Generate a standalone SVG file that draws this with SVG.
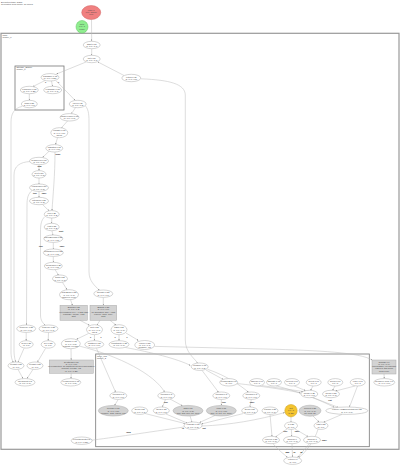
<svg xmlns="http://www.w3.org/2000/svg" width="400" height="466" viewBox="0 0 400 466">
<style>
text{font-family:"Liberation Sans",Arial,sans-serif;font-size:2.2px;fill:#444;text-anchor:middle}
.t text{text-anchor:start}
.n ellipse{fill:#fff;stroke:#aaa;stroke-width:0.5}
.g ellipse,.g rect{fill:#d3d3d3;stroke:#aaa;stroke-width:0.5}
.cl{fill:none;stroke:#777;stroke-width:0.8}
.e path{fill:none;stroke:#bbb;stroke-width:0.5;marker-end:url(#ah)}
.lb{font-weight:bold;fill:#222;font-size:2px}
</style>
<defs>
<marker id="ah" viewBox="0 0 6 6" refX="6" refY="3" markerWidth="3" markerHeight="3" orient="auto"><path d="M0,0L6,3L0,6z" fill="#888"/></marker>
</defs>
<rect width="400" height="466" fill="#fff"/>
<g class="t"><text x="1" y="2.6">Execution trace graph</text><text x="1" y="5.2">Generated from profile, all nodes</text></g>

<g id="cluster_main"><rect class="cl" x="1" y="33.3" width="398" height="416" style="stroke:#999;stroke-width:1.2"/><text x="2.5" y="36" style="text-anchor:start">main</text><text x="2.5" y="38.2" style="text-anchor:start">cluster_0</text></g>
<g id="cluster_storage"><rect class="cl" x="15" y="66" width="49" height="44"/><text x="16.5" y="68.3" style="text-anchor:start">Storage_Engine</text><text x="16.5" y="70.4" style="text-anchor:start">cluster_1</text></g>
<g id="cluster_inline"><rect class="cl" x="95.7" y="354" width="273.6" height="92.7"/><text x="97" y="356.6" style="text-anchor:start">inline_ops</text><text x="97" y="358.7" style="text-anchor:start">cluster_2</text></g>

<g id="edges" class="e">
<path d="M91.5,19.5L91.7,41"/>
<path d="M91.7,48.7L91.7,55.3"/>
<path d="M86,62L56.5,74"/>
<path d="M124,75.5L98,62"/>
<path d="M45,80.5L33,86.5"/>
<path d="M51.5,81L52.5,86.3"/>
<path d="M29.3,93.7L29.3,100.3"/>
<path d="M56,80.7L75,100.3"/>
<path d="M75.5,107.6L71.5,113.7"/>
<path d="M67.5,121L61.5,127.7"/>
<path d="M57.5,137.7L55.5,144.6"/>
<path d="M49,151.3L42.5,157.5"/>
<path d="M39,164.7L39,170.6"/>
<path d="M39,178L39,184"/>
<path d="M39,191.4L39,197.3"/>
<path d="M42.5,204.5L49,210.8"/>
<path d="M55,152C55,175 53,195 52,210.6"/>
<path d="M51.7,218L51.7,223.3"/>
<path d="M51.9,230.7L53,235"/>
<path d="M53.3,242.4L53.3,249"/>
<path d="M53.3,256.4L53.3,262.3"/>
<path d="M55,269.6L58.5,275"/>
<path d="M62.5,282.4L67,289.7"/>
<path d="M70.5,299.7L72.5,305.3"/>
<path d="M85.5,106C89,110 89,116 89,124L89,272C89,281 95,286 99.5,290.3"/>
<path d="M103.3,297.4L103.3,305.3"/>
<path d="M80,320.3L89.5,325.3"/>
<path d="M100,320.3L97,325"/>
<path d="M110,320.3L116,325"/>
<path d="M88.5,333.5L76.5,339.3"/>
<path d="M94.5,334.7L94.3,340.7"/>
<path d="M119,334.7L119,340.7"/>
<path d="M126,333L138.5,340.5"/>
<path d="M26.2,332.4L26.2,340.7"/>
<path d="M48.5,332.4L48.2,340.7"/>
<path d="M22,106.5C14,108 11,114 11,122L11,352C11,358 12.5,361 13.5,362.5"/>
<path d="M30.5,161.5C20,162 14,166 14,175L14,350C14,356 15,359 15.5,362"/>
<path d="M32,190.5C28,194 27,198 27,205L26.5,325"/>
<path d="M45,216.5C41,220 40.5,225 40.5,232L40.5,315C40.5,321 43.5,323.5 45.5,325.6"/>
<path d="M24,348.4L18,362"/>
<path d="M45.5,348.4L37.5,362"/>
<path d="M71,348.7L71.2,360"/>
<path d="M18,369.4L23,378.6"/>
<path d="M33,369.4L27,378.6"/>
<path d="M71.2,373.3L71,378.6"/>
<path d="M141,78.8C170,80 185,84 185.3,95L185.3,340C185.3,352 194,358 197.5,362.8"/>
<path d="M154.5,346.4L266,349C320,350.5 360,352.5 372,360"/>
<path d="M125.5,347.5C150,352 178,359 190.5,365.5"/>
<path d="M96.5,348.4L115.5,392"/>
<path d="M79,346C120,356 155,375 164.5,392"/>
<path d="M206,370L223,379.3"/>
<path d="M207.5,369.3C225,375 240,385 248.5,392.2"/>
<path d="M202,370.4L218.5,392.2"/>
<path d="M237,383.5C260,386 288,390 300.5,393"/>
<path d="M262,385.6L303,391.5"/>
<path d="M276,385.8C300,392 320,400 334,407.2"/>
<path d="M294,385.8L305.5,390.6"/>
<path d="M313,386L310.5,390.4"/>
<path d="M335,386L332.5,390.4"/>
<path d="M355,386L335.5,391"/>
<path d="M357.5,386L349.5,407"/>
<path d="M313,397.6L338,407.3"/>
<path d="M118.3,399.4L114.5,405.4"/>
<path d="M170,399L182.5,405.8"/>
<path d="M165.5,399.4L162.5,407"/>
<path d="M221.3,399.4L221.3,405.4"/>
<path d="M251.3,399.4L250,407"/>
<path d="M145,413.5L185,423.5"/>
<path d="M166,414L187,423"/>
<path d="M190,416L192,422"/>
<path d="M215,415.5L199.5,422.5"/>
<path d="M243,413.6L201.5,424"/>
<path d="M184,427C150,432 110,438 90.5,440.3"/>
<path d="M202,426C230,425 258,420 284.8,412.5"/>
<path d="M291,417L291,422"/>
<path d="M287,429L275.5,436.8"/>
<path d="M291.3,429.4L291.8,436.3"/>
<path d="M295,429L308,436.6"/>
<path d="M313,416L319,422"/>
<path d="M342,414.4L323.5,422.3"/>
<path d="M318,429.3C315,440 305,453 299,457.5"/>
<path d="M273,443.7C278,450 284,454 287.5,457.5"/>
<path d="M292,443.7L292.5,457"/>
<path d="M309.5,443.6L297.5,457.5"/>
<path d="M384,374L384.3,378.6"/>
<path d="M270,414.4L272,436.3"/>
</g>

<g id="edge_labels">
<text class="lb" x="45.5" y="83.2">T</text><text class="lb" x="58.5" y="83.2">F</text>
<text class="lb" x="35" y="193.5">true</text><text class="lb" x="44" y="193.5">false</text>
<text class="lb" x="39.5" y="167.2">loop</text><text class="lb" x="58" y="155">body</text>
<text class="lb" x="61" y="232">next</text>
<text class="lb" x="41" y="247">true</text><text class="lb" x="62" y="247">false</text>
<text class="lb" x="90.5" y="338">T</text><text class="lb" x="101" y="338">F</text>
<text class="lb" x="115" y="338">T</text><text class="lb" x="127" y="338">F</text>
<text class="lb" x="166" y="403">true</text><text class="lb" x="224" y="403">true</text>
<text class="lb" x="183" y="428.5">in</text><text class="lb" x="204" y="428.5">out</text>
<text class="lb" x="252" y="403">false</text><text class="lb" x="330" y="401">exit</text>
<text class="lb" x="285.5" y="431.5">true</text><text class="lb" x="297" y="431.5">false</text>
<text class="lb" x="128.3" y="433" style="font-size:2.3px">4096</text>
<text class="lb" x="324.3" y="441.3" style="font-size:2.3px">1024</text>
<text class="lb" x="287.3" y="453" style="font-size:2.3px">256</text>
<text class="lb" x="294.3" y="453">16</text>
<text class="lb" x="301.3" y="453">32</text>
</g>

<g id="n_entry"><ellipse cx="91.2" cy="12.5" rx="9.5" ry="7" fill="#f08080" stroke="#d06060" stroke-width="0.5"/><text x="91.2" y="10.8">entry 1</text><text x="91.2" y="13.1">(0.0, 100%)</text><text x="91.2" y="15.4">root</text></g>
<g id="n_init"><ellipse cx="82" cy="26.8" rx="6" ry="6.3" fill="#90ee90" stroke="#60c060" stroke-width="0.5"/><text x="82" y="25">init 1</text><text x="82" y="27.3">0.0 / 1</text><text x="82" y="29.6">ready</text></g>

<g class="n">
<g id="n_start"><ellipse cx="91.7" cy="45" rx="8.5" ry="3.7"/><text x="91.7" y="44.5">Start 0.75</text><text x="91.7" y="46.8">(1, 0.0 / 1.0)</text></g>
<g id="n_a"><ellipse cx="91.7" cy="59" rx="8.5" ry="3.7"/><text x="91.7" y="58.5">init 0.75</text><text x="91.7" y="60.8">(1, 0.0 / 1.0)</text></g>
<g id="n_b"><ellipse cx="131.3" cy="78" rx="9.5" ry="3.7"/><text x="131.3" y="77.5">return 0.75</text><text x="131.3" y="79.8">(1, 0.1 / 0.5)</text></g>
<g id="n_c"><ellipse cx="50" cy="77.3" rx="9" ry="3.7"/><text x="50" y="76.8">loadTable 0.75</text><text x="50" y="79.1">(1, 0.0 / 0.25)</text></g>
<g id="n_d"><ellipse cx="29.3" cy="90" rx="9" ry="3.7"/><text x="29.3" y="89.5">readIndex 0.50</text><text x="29.3" y="91.8">(1, 0.0 / 0.25)</text></g>
<g id="n_e"><ellipse cx="52.7" cy="90" rx="9" ry="3.7"/><text x="52.7" y="89.5">readPage 0.50</text><text x="52.7" y="91.8">(1, 0.0 / 0.1)</text></g>
<g id="n_f"><ellipse cx="29.3" cy="104" rx="8" ry="3.7"/><text x="29.3" y="103.5">scan 0.25</text><text x="29.3" y="105.8">(1, 0.0 / 0.1)</text></g>
<g id="n_g"><ellipse cx="77.7" cy="104" rx="8.5" ry="3.7"/><text x="77.7" y="103.5">open 0.75</text><text x="77.7" y="105.8">(1, 0.0 / 0.5)</text></g>
<g id="n_h"><ellipse cx="69.5" cy="117.3" rx="9.5" ry="3.7"/><text x="69.5" y="116.8">parseHeader 0.75</text><text x="69.5" y="119.1">(1, 0.0 / 0.5)</text></g>
<g id="n_i"><ellipse cx="59.3" cy="132.7" rx="8.5" ry="5"/><text x="59.3" y="131.2">validate 0.75</text><text x="59.3" y="133.5">(1, 0.0 / 0.5)</text><text x="59.3" y="135.8">check</text></g>
<g id="n_j"><ellipse cx="54.3" cy="148.3" rx="8.5" ry="3.7"/><text x="54.3" y="147.8">dispatch 0.75</text><text x="54.3" y="150.1">(1, 0.0 / 0.5)</text></g>
<g id="n_k"><ellipse cx="39" cy="161" rx="9.5" ry="3.7"/><text x="39" y="160.5">beginLoop 0.75</text><text x="39" y="162.8">(1, 0.0 / 0.5)</text></g>
<g id="n_l"><ellipse cx="39" cy="174.3" rx="7" ry="3.7"/><text x="39" y="173.8">next 0.50</text><text x="39" y="176.1">(1, 0.0 / 0.5)</text></g>
<g id="n_m"><ellipse cx="39" cy="187.7" rx="9.5" ry="3.7"/><text x="39" y="187.2">evalGuard 0.50</text><text x="39" y="189.5">(1, 0.0 / 0.5)</text></g>
<g id="n_n"><ellipse cx="39" cy="201" rx="9.5" ry="3.7"/><text x="39" y="200.5">filterRow 0.35</text><text x="39" y="202.8">(1, 0.0 / 0.2)</text></g>
<g id="n_o"><ellipse cx="51.7" cy="214.3" rx="7.5" ry="3.7"/><text x="51.7" y="213.8">join 0.35</text><text x="51.7" y="216.1">(1, 0.0 / 0.2)</text></g>
<g id="n_p"><ellipse cx="51.7" cy="227" rx="7.5" ry="3.7"/><text x="51.7" y="226.5">emit 0.35</text><text x="51.7" y="228.8">(1, 0.0 / 0.2)</text></g>
<g id="n_q"><ellipse cx="53.3" cy="238.7" rx="9.5" ry="3.7"/><text x="53.3" y="238.2">checkBounds 0.35</text><text x="53.3" y="240.5">(1, 0.0 / 0.2)</text></g>
<g id="n_r"><ellipse cx="53.3" cy="252.7" rx="10" ry="3.7"/><text x="53.3" y="252.2">compareKeys 0.35</text><text x="53.3" y="254.5">(1, 0.0 / 0.2)</text></g>
<g id="n_s"><ellipse cx="53.3" cy="266" rx="9" ry="3.7"/><text x="53.3" y="265.5">mergeRun 0.35</text><text x="53.3" y="267.8">(1, 0.0 / 0.2)</text></g>
<g id="n_t"><ellipse cx="60" cy="278.7" rx="7.5" ry="3.7"/><text x="60" y="278.2">flush 0.25</text><text x="60" y="280.5">(1, 0.0 / 0.1)</text></g>
<g id="n_u"><ellipse cx="69" cy="294.7" rx="9.5" ry="5"/><text x="69" y="293.2">writeBlock 0.25</text><text x="69" y="295.5">(1, 0.0 / 0.1)</text><text x="69" y="297.8">buffered, sync</text></g>
<g id="n_v"><ellipse cx="103.3" cy="293.7" rx="9.5" ry="3.7"/><text x="103.3" y="293.2">allocate 0.25</text><text x="103.3" y="295.5">(1, 0.0 / 0.1)</text></g>
<g id="n_w"><ellipse cx="94.5" cy="329.7" rx="8" ry="5"/><text x="94.5" y="328.2">sort 0.25</text><text x="94.5" y="330.5">(1, 0.0 / 0.1)</text><text x="94.5" y="332.8">fan 2</text></g>
<g id="n_x"><ellipse cx="119" cy="329.7" rx="8" ry="5"/><text x="119" y="328.2">hash 0.25</text><text x="119" y="330.5">(1, 0.0 / 0.1)</text><text x="119" y="332.8">fan 2</text></g>
<g id="n_y"><ellipse cx="26.2" cy="328.7" rx="9.5" ry="3.7"/><text x="26.2" y="328.2">closeFile 0.25</text><text x="26.2" y="330.5">(1, 0.0 / 0.1)</text></g>
<g id="n_z"><ellipse cx="48.5" cy="328.7" rx="9.5" ry="3.7"/><text x="48.5" y="328.2">closeIdx 0.25</text><text x="48.5" y="330.5">(1, 0.0 / 0.1)</text></g>
<g id="n_r2a"><ellipse cx="26.2" cy="344.4" rx="7" ry="3.7"/><text x="26.2" y="343.9">sync 0.25</text><text x="26.2" y="346.2">(1, 0.0)</text></g>
<g id="n_r2b"><ellipse cx="48.2" cy="344.4" rx="7" ry="3.7"/><text x="48.2" y="343.9">free 0.25</text><text x="48.2" y="346.2">(1, 0.0)</text></g>
<g id="n_r2c"><ellipse cx="70.8" cy="343.7" rx="9.5" ry="5"/><text x="70.8" y="342.2">finalize 0.75</text><text x="70.8" y="344.5">(1, 0.0 / 0.5)</text><text x="70.8" y="346.8">commit, release</text></g>
<g id="n_r2d"><ellipse cx="94.3" cy="344.4" rx="9.5" ry="3.7"/><text x="94.3" y="343.9">partition 0.25</text><text x="94.3" y="346.2">(1, 0.0 / 0.1)</text></g>
<g id="n_r2e"><ellipse cx="119" cy="344.4" rx="10" ry="3.7"/><text x="119" y="343.9">redistribute 0.25</text><text x="119" y="346.2">(1, 0.0 / 0.1)</text></g>
<g id="n_r2f"><ellipse cx="144.7" cy="345" rx="10" ry="4.5"/><text x="144.7" y="343.7">reduce 0.25</text><text x="144.7" y="346">(1, 0.0 / 0.1)</text><text x="144.7" y="348.3">combine, out</text></g>
<g id="n_s1"><ellipse cx="16" cy="365.7" rx="8" ry="3.7"/><text x="16" y="365.2">persist 0.25</text><text x="16" y="367.5">(1, 0.0)</text></g>
<g id="n_s2"><ellipse cx="35" cy="365.7" rx="8" ry="3.7"/><text x="35" y="365.2">persist 0.25</text><text x="35" y="367.5">(1, 0.0)</text></g>
<g id="n_s3"><ellipse cx="25" cy="382.3" rx="10" ry="3.7"/><text x="25" y="381.8">checkpoint 0.5</text><text x="25" y="384.1">(1, 0.0 / 0.1)</text></g>
<g id="n_s4"><ellipse cx="70.8" cy="382.3" rx="10" ry="3.7"/><text x="70.8" y="381.8">releaseLock 0.75</text><text x="70.8" y="384.1">(1, 0.0 / 0.5)</text></g>
<g id="n_tail"><ellipse cx="81.7" cy="440.7" rx="10.5" ry="3.7"/><text x="81.7" y="440.2">collectResults 0.5</text><text x="81.7" y="442.5">(1, 0.0 / 0.25)</text></g>
<g id="n_i1"><ellipse cx="199.7" cy="366.7" rx="8.5" ry="3.7"/><text x="199.7" y="366.2">combine 0.75</text><text x="199.7" y="368.5">(1, 0.0 / 0.5)</text></g>
<g id="n_i2"><ellipse cx="228.7" cy="382.3" rx="9" ry="3.7"/><text x="228.7" y="381.8">compileExpr 0.5</text><text x="228.7" y="384.1">(1, 0.0)</text></g>
<g id="n_i3"><ellipse cx="257" cy="382.3" rx="7.5" ry="3.7"/><text x="257" y="381.8">tableau 0.07</text><text x="257" y="384.1">0.0 / 1</text></g>
<g id="n_i4"><ellipse cx="274" cy="382.3" rx="7.5" ry="3.7"/><text x="274" y="381.8">tabulate 0.07</text><text x="274" y="384.1">0.0 / 1</text></g>
<g id="n_i5"><ellipse cx="292" cy="382.3" rx="7.5" ry="3.7"/><text x="292" y="381.8">project 0.07</text><text x="292" y="384.1">0.0 / 1</text></g>
<g id="n_i6"><ellipse cx="313.7" cy="382.3" rx="7.5" ry="3.7"/><text x="313.7" y="381.8">select 0.07</text><text x="313.7" y="384.1">0.0 / 1</text></g>
<g id="n_i7"><ellipse cx="335.3" cy="382.3" rx="7.5" ry="3.7"/><text x="335.3" y="381.8">group 0.07</text><text x="335.3" y="384.1">0.0 / 1</text></g>
<g id="n_i8"><ellipse cx="357.7" cy="382.3" rx="7.5" ry="3.7"/><text x="357.7" y="381.8">order 0.07</text><text x="357.7" y="384.1">0.0 / 1</text></g>
<g id="n_j1"><ellipse cx="118.3" cy="395.7" rx="8.5" ry="3.7"/><text x="118.3" y="395.2">operand 0.5</text><text x="118.3" y="397.5">(1, 0.0 / 0.1)</text></g>
<g id="n_j2"><ellipse cx="166.3" cy="395.7" rx="8.5" ry="3.7"/><text x="166.3" y="395.2">operand 0.5</text><text x="166.3" y="397.5">(1, 0.0 / 0.1)</text></g>
<g id="n_j3"><ellipse cx="221.3" cy="395.7" rx="8.5" ry="3.7"/><text x="221.3" y="395.2">operand 0.5</text><text x="221.3" y="397.5">(1, 0.0 / 0.1)</text></g>
<g id="n_j4"><ellipse cx="251.3" cy="395.7" rx="8.5" ry="3.7"/><text x="251.3" y="395.2">operand 0.5</text><text x="251.3" y="397.5">(1, 0.0 / 0.1)</text></g>
<g id="n_j5"><ellipse cx="309.3" cy="394" rx="8.5" ry="3.7"/><text x="309.3" y="393.5">merge 0.25</text><text x="309.3" y="395.8">(1, 0.0 / 0.1)</text></g>
<g id="n_j6"><ellipse cx="331" cy="394" rx="8.5" ry="3.7"/><text x="331" y="393.5">merge 0.25</text><text x="331" y="395.8">(1, 0.0 / 0.1)</text></g>
<g id="n_k2"><ellipse cx="139.7" cy="410.7" rx="8" ry="3.7"/><text x="139.7" y="410.2">literal 0.25</text><text x="139.7" y="412.5">(1, 0.0 / 0.1)</text></g>
<g id="n_k3"><ellipse cx="161.3" cy="410.7" rx="8" ry="3.7"/><text x="161.3" y="410.2">literal 0.25</text><text x="161.3" y="412.5">(1, 0.0 / 0.1)</text></g>
<g id="n_k6"><ellipse cx="249.7" cy="410.7" rx="8" ry="3.7"/><text x="249.7" y="410.2">literal 0.25</text><text x="249.7" y="412.5">(1, 0.0 / 0.1)</text></g>
<g id="n_k7"><ellipse cx="270" cy="410.7" rx="8" ry="3.7"/><text x="270" y="410.2">column 0.25</text><text x="270" y="412.5">(1, 0.0 / 0.1)</text></g>
<g id="n_k9"><ellipse cx="346.8" cy="410.7" rx="21" ry="3.7"/><text x="346.8" y="410.2">resolveAndBindIdentifiers 0.25</text><text x="346.8" y="412.5">(1, 0.0 / 0.1)</text></g>
<g id="n_l1"><ellipse cx="193" cy="425.7" rx="9" ry="3.7"/><text x="193" y="425.2">evaluate 0.75</text><text x="193" y="427.5">(1, 0.0 / 0.5)</text></g>
<g id="n_l2"><ellipse cx="291" cy="425.7" rx="6.5" ry="3.7"/><text x="291" y="425.2">if 0.25</text><text x="291" y="427.5">(1, 0.0)</text></g>
<g id="n_l3"><ellipse cx="321" cy="425.7" rx="7" ry="3.7"/><text x="321" y="425.2">cast 0.25</text><text x="321" y="427.5">(1, 0.0)</text></g>
<g id="n_m1"><ellipse cx="271" cy="440" rx="8.5" ry="3.7"/><text x="271" y="439.5">ordered 0.25</text><text x="271" y="441.8">(1, 0.0 / 0.1)</text></g>
<g id="n_m2"><ellipse cx="292" cy="440" rx="8.5" ry="3.7"/><text x="292" y="439.5">random 0</text><text x="292" y="441.8">(1, 0.0 / 0.1)</text></g>
<g id="n_m3"><ellipse cx="312" cy="440" rx="8.5" ry="3.7"/><text x="312" y="439.5">random 1</text><text x="312" y="441.8">(1, 0.0 / 0.1)</text></g>
<g id="n_ret"><ellipse cx="292.7" cy="460.7" rx="9" ry="3.7"/><text x="292.7" y="460.2">return 0.1</text><text x="292.7" y="462.5">(1, 0.0)</text></g>
<g id="n_nw"><ellipse cx="384.3" cy="382.3" rx="10.5" ry="3.7"/><text x="384.3" y="381.8">Nowhere node 0.0</text><text x="384.3" y="384.1">(0, 0.0 / 0.0)</text></g>
</g>

<g class="g">
<g id="r_1"><rect x="60" y="305.3" width="27.3" height="15"/><text x="73.7" y="308">Branch 0.35</text><text x="73.7" y="310.3">(1, 0.0 / 0.2)</text><text x="73.7" y="312.6">on condition: key &gt; 0 &amp;&amp; valid</text><text x="73.7" y="314.9">compare, merge, emit</text><text x="73.7" y="317.2">split</text></g>
<g id="r_2"><rect x="90" y="305.3" width="26.7" height="15"/><text x="103.3" y="308">Branch 0.25</text><text x="103.3" y="310.3">(1, 0.0 / 0.1)</text><text x="103.3" y="312.6">on allocation: size &lt; limit</text><text x="103.3" y="314.9">reserve, bind, copy</text><text x="103.3" y="317.2">split</text></g>
<g id="r_3"><rect x="49.3" y="360" width="44" height="13.3"/><text x="71.3" y="362.5">Synthesis 0.75</text><text x="71.3" y="364.8">(1, 0.0 / 0.5)</text><text x="71.3" y="367.1">on completion: all partitions merged and flushed</text><text x="71.3" y="369.4">commit, release, log</text><text x="71.3" y="371.7">(1, 0.0 / 0.25)</text></g>
<g id="r_4"><rect x="372" y="360" width="24" height="14"/><text x="384" y="362.5">Orphan 0.0</text><text x="384" y="364.8">(0, 0.0 / 0.0)</text><text x="384" y="367.1">unreachable: no inbound</text><text x="384" y="369.4">edges to this block</text><text x="384" y="371.7">dead code</text></g>
<g id="g_e1"><ellipse cx="113.3" cy="410.7" rx="15" ry="5.3"/><text x="113.3" y="409.2">prepare 0.75</text><text x="113.3" y="411.5">(1, 0.0 / 0.5)</text><text x="113.3" y="413.8">compile, bind, check, run</text></g>
<g id="g_e2"><ellipse cx="188" cy="410.7" rx="15" ry="5.3"/><text x="188" y="409.2">arith 0.75</text><text x="188" y="411.5">(1, 0.0 / 0.5)</text><text x="188" y="413.8">add, sub, mul, div, mod</text></g>
<g id="g_e3"><ellipse cx="221.3" cy="410.7" rx="15" ry="5.3"/><text x="221.3" y="409.2">logic 0.75</text><text x="221.3" y="411.5">(1, 0.0 / 0.5)</text><text x="221.3" y="413.8">and, or, not, xor, imply</text></g>
<g id="g_e4"><ellipse cx="310" cy="410.7" rx="11" ry="5.5"/><text x="310" y="409.2">convert 0.25</text><text x="310" y="411.5">(1, 0.0 / 0.1)</text><text x="310" y="413.8">int, float, str</text></g>
</g>
<g id="n_hot"><ellipse cx="291" cy="410.7" rx="6.2" ry="6.2" fill="#f4c430" stroke="#c9a020" stroke-width="0.5"/><text x="291" y="409">hot</text><text x="291" y="411.3">0.9 / 1</text><text x="291" y="413.6">(0.25)</text></g>
</svg>
